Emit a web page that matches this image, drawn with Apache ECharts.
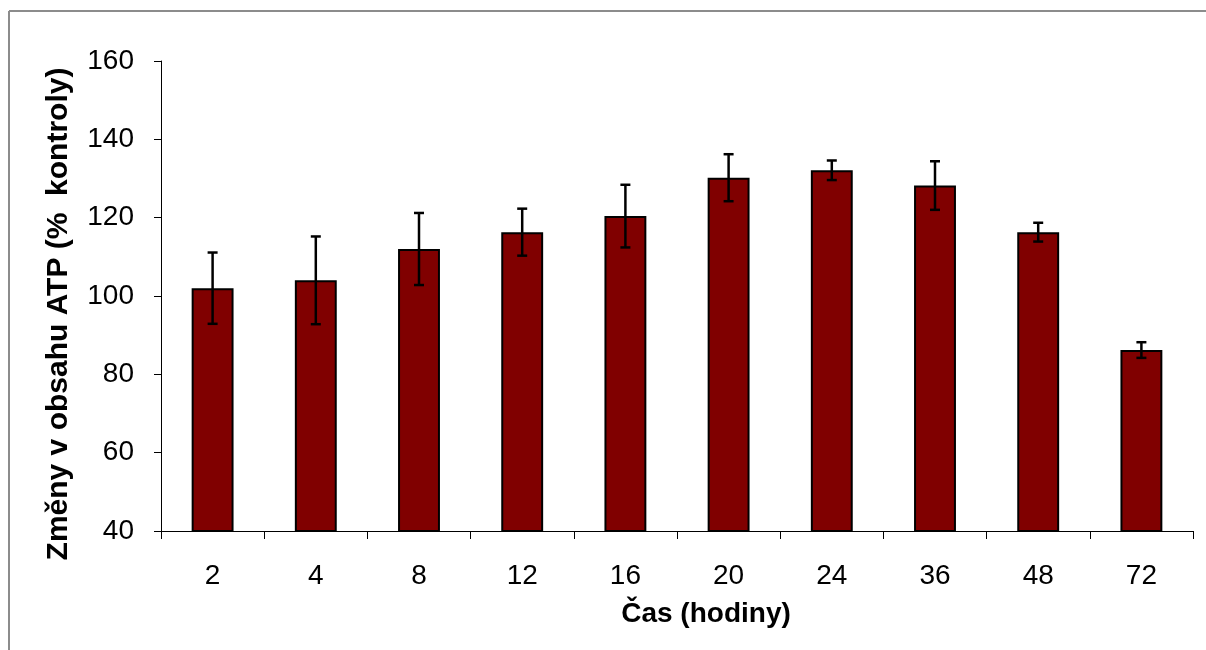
<!DOCTYPE html>
<html>
<head>
<meta charset="utf-8">
<script src="https://cdn.jsdelivr.net/npm/echarts@6/dist/echarts.min.js"></script>
<style>
html,body{margin:0;padding:0;background:#fff;}
#chart{width:1206px;height:650px;}
</style>
</head>
<body>
<div id="chart"></div>
<script>
const categories = ['2', '4', '8', '12', '16', '20', '24', '36', '48', '72'];
const means = [102, 104, 112, 116.3, 120.4, 130.2, 132.1, 128.2, 116.3, 86.2];
const errors = [9.1, 11.2, 9.2, 6, 8, 6, 2.5, 6.2, 2.4, 2];
const yTicks = { min: 40, max: 160, interval: 20 };
const xTitle = 'Čas (hodiny)';
const yTitle = 'Změny v obsahu ATP (%  kontroly)';

const chart = echarts.init(document.getElementById('chart'), null, { renderer: 'canvas' });
const FONT = '"Liberation Sans", Arial, sans-serif';

const errData = means.map((m, i) => [i, m, errors[i]]);

chart.setOption({
  backgroundColor: '#ffffff',
  animation: false,
  grid: { left: 161, right: 13, top: 61, bottom: 119, containLabel: false },
  xAxis: {
    type: 'category',
    data: categories,
    axisLine: { show: true, lineStyle: { color: '#000', width: 1 } },
    axisTick: { show: true, length: 8, lineStyle: { color: '#000', width: 1 } },
    axisLabel: { color: '#000', fontSize: 28, fontFamily: FONT, margin: 31 },
    splitLine: { show: false }
  },
  yAxis: {
    type: 'value',
    min: yTicks.min, max: yTicks.max, interval: yTicks.interval,
    axisLine: { show: true, lineStyle: { color: '#000', width: 1 } },
    axisTick: { show: true, length: 7, lineStyle: { color: '#000', width: 1 } },
    axisLabel: { color: '#000', fontSize: 28, fontFamily: FONT, margin: 27 },
    splitLine: { show: false }
  },
  graphic: [
    { type: 'line', shape: { x1: 9, y1: 11, x2: 9, y2: 650 }, style: { stroke: '#8c8c8c', lineWidth: 2 } },
    { type: 'line', shape: { x1: 9, y1: 11, x2: 1206, y2: 11 }, style: { stroke: '#8c8c8c', lineWidth: 2 } },
    { type: 'text', x: 706, y: 614, style: { text: xTitle, fill: '#000', font: 'bold 28px ' + FONT, textAlign: 'center', textVerticalAlign: 'middle' } },
    { type: 'text', x: 59, y: 314, rotation: Math.PI / 2, style: { text: yTitle, fill: '#000', font: 'bold 30px ' + FONT, textAlign: 'center', textVerticalAlign: 'middle' } }
  ],
  series: [
    {
      type: 'bar',
      data: means,
      barWidth: '40.6%',
      itemStyle: { color: '#800000', borderColor: '#000', borderWidth: 2 },
      z: 2
    },
    {
      type: 'custom',
      data: errData,
      z: 3,
      renderItem: function (params, api) {
        const i = api.value(0), m = api.value(1), e = api.value(2);
        const top = api.coord([i, m + e]);
        const bot = api.coord([i, m - e]);
        const hw = 5;
        const st = { stroke: '#000', lineWidth: 2.5 };
        return {
          type: 'group',
          children: [
            { type: 'line', shape: { x1: top[0], y1: top[1], x2: bot[0], y2: bot[1] }, style: st },
            { type: 'line', shape: { x1: top[0] - hw, y1: top[1], x2: top[0] + hw, y2: top[1] }, style: st },
            { type: 'line', shape: { x1: bot[0] - hw, y1: bot[1], x2: bot[0] + hw, y2: bot[1] }, style: st }
          ]
        };
      }
    }
  ]
});
</script>
</body>
</html>
